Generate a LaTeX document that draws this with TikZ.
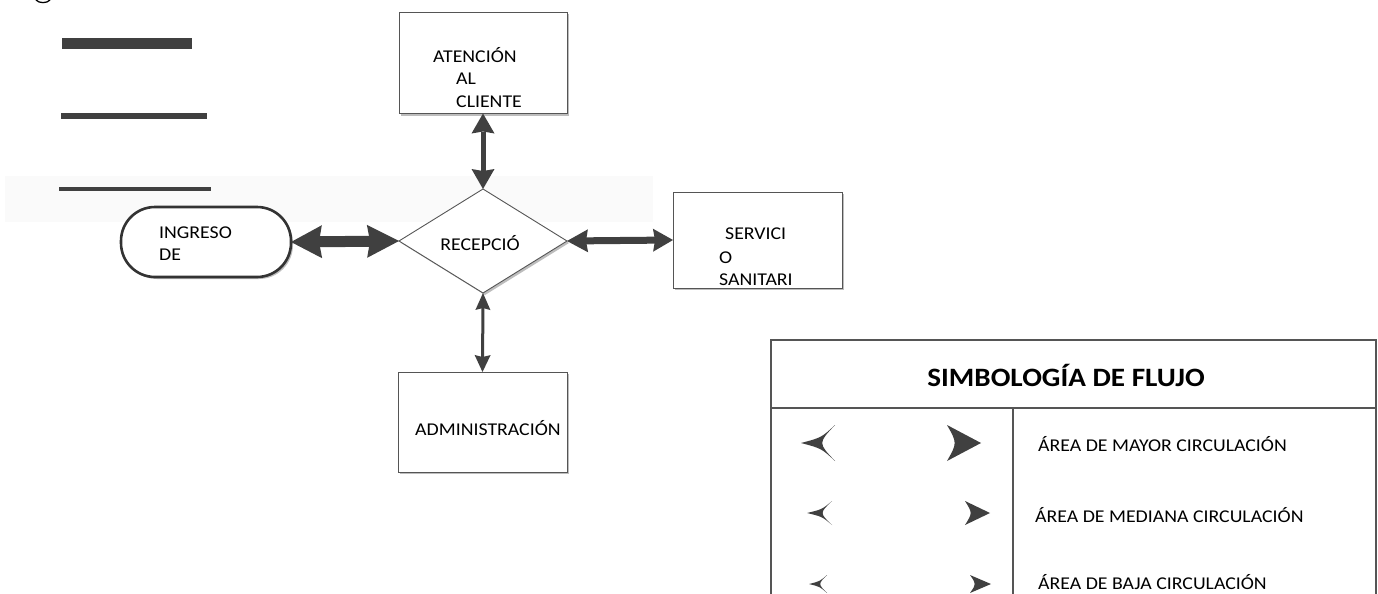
\documentclass[tikz,border=0pt]{standalone}
\usepackage{fontspec}
\setmainfont{Carlito}
\newfontfamily\lab[FakeStretch=1.1]{Carlito}
\usetikzlibrary{arrows.meta,shapes.geometric,shadows}
\definecolor{ink}{HTML}{404040}
\definecolor{edge}{HTML}{555555}
\definecolor{shd}{HTML}{BDBDBD}
\newcommand\legL[4]{\fill[ink] (#1,#3) .. controls ({#1+0.6*(#2-#1)},{#3-0.3*#4}) .. (#2,{#3-#4}) .. controls ({#2-0.5*(#2-#1)},#3) .. (#2,{#3+#4}) .. controls ({#1+0.6*(#2-#1)},{#3+0.3*#4}) .. cycle;}
\newcommand\legR[4]{\fill[ink] (#1,{#3-#4}) -- (#2,#3) -- (#1,{#3+#4}) .. controls ({#1+0.3*(#2-#1)},#3) .. cycle;}
\begin{document}
\begin{tikzpicture}[x=1pt,y=-1pt,
  lbl/.style={font=\lab\fontsize{18}{21}\selectfont, inner sep=0pt, anchor=west, text=black},
  shadowed/.style={drop shadow={shadow xshift=2pt,shadow yshift=-2pt,fill=shd,opacity=1}},
  boxnode/.style={draw=edge, line width=0.9pt, fill=white, inner sep=0pt, outer sep=0pt, shadowed},
  conn/.style={draw=ink, line width=#1},
]
\useasboundingbox (0,0) rectangle (1378,594);
\fill[white] (0,0) rectangle (1378,594);
% faint band
\fill[black!2] (5,176) rectangle (653,222);
% letter fragment at top
\draw[line width=1.3pt, black] (36,0) .. controls (39,3.5) and (47,3.5) .. (50,0);
% line samples
\fill[ink] (62,38) rectangle (192,49);
\fill[ink] (61,113) rectangle (207,119);
\fill[ink] (59,187) rectangle (211,191);

% nodes
\node[boxnode, minimum width=168pt, minimum height=101pt] (atc) at (483,63) {};
\node[lbl] (atc1) at (433,55) {ATENCIÓN};
\node[lbl] (atc2) at (456,79) {AL};
\node[lbl] (atc3) at (456,102) {CLIENTE};

\node[boxnode, draw=black!80, line width=2.6pt, rounded corners=34pt, minimum width=170pt, minimum height=70pt] (ing) at (206,242) {};
\node[lbl] (ing1) at (159,233) {INGRESO};
\node[lbl] (ing2) at (159,255) {DE};

\node[boxnode, diamond, shape aspect=1.6, minimum width=168pt, minimum height=104pt] (rec) at (483,241) {};
\node[lbl, anchor=center] (rec1) at (480,243) {RECEPCIÓ};

\node[boxnode, minimum width=169pt, minimum height=96pt] (ser) at (757.5,240) {};
\node[lbl] (ser1) at (725,234) {SERVICI};
\node[lbl] (ser2) at (719,258) {O};
\node[lbl] (ser3) at (719,280) {SANITARI};

\node[boxnode, minimum width=169pt, minimum height=100pt] (adm) at (482.5,422) {};
\node[lbl] (adm1) at (415,428) {ADMINISTRACIÓN};

% connectors
\draw[conn=11pt, {Stealth[length=31pt,width=33pt,inset=3pt,line width=0pt]}-{Stealth[length=32pt,width=33pt,inset=3pt,line width=0pt]}] (ing.east) -- (rec.west);
\draw[conn=7pt, {Stealth[length=21pt,width=23pt,inset=2pt,line width=0pt]}-{Stealth[length=20pt,width=23pt,inset=2pt,line width=0pt]}] (rec.east) -- (ser.west);
\draw[conn=5pt, {Stealth[length=20pt,width=23pt,inset=2pt,line width=0pt]}-{Stealth[length=20pt,width=23pt,inset=2pt,line width=0pt]}] (atc.south) -- (rec.north);
\draw[conn=3pt, {Stealth[length=17pt,width=15pt,inset=2pt,line width=0pt]}-{Stealth[length=17pt,width=16pt,inset=2pt,line width=0pt]}] (rec.south) -- (adm.north);

% legend
\draw[edge, line width=1.2pt] (771,610) -- (771,340) -- (1376,340) -- (1376,610);
\draw[edge, line width=1.2pt] (771,408) -- (1376,408);
\draw[edge, line width=1.2pt] (1013,408) -- (1013,610);
\node[font=\lab\fontsize{26.5}{30}\selectfont\bfseries, inner sep=0pt] (leg) at (1066,375) {SIMBOLOGÍA DE FLUJO};
\node[lbl] (r1) at (1038,444) {ÁREA DE MAYOR CIRCULACIÓN};
\node[lbl] (r2) at (1035,515) {ÁREA DE MEDIANA CIRCULACIÓN};
\node[lbl] (r3) at (1038,582) {ÁREA DE BAJA CIRCULACIÓN};
\legL{801}{835}{443}{18}
\legR{947}{981}{443}{18}
\legL{807}{832}{513}{12}
\legR{965}{990}{513}{12}
\legL{809}{827}{584}{9}
\legR{970}{991}{584}{9}
\end{tikzpicture}
\end{document}
